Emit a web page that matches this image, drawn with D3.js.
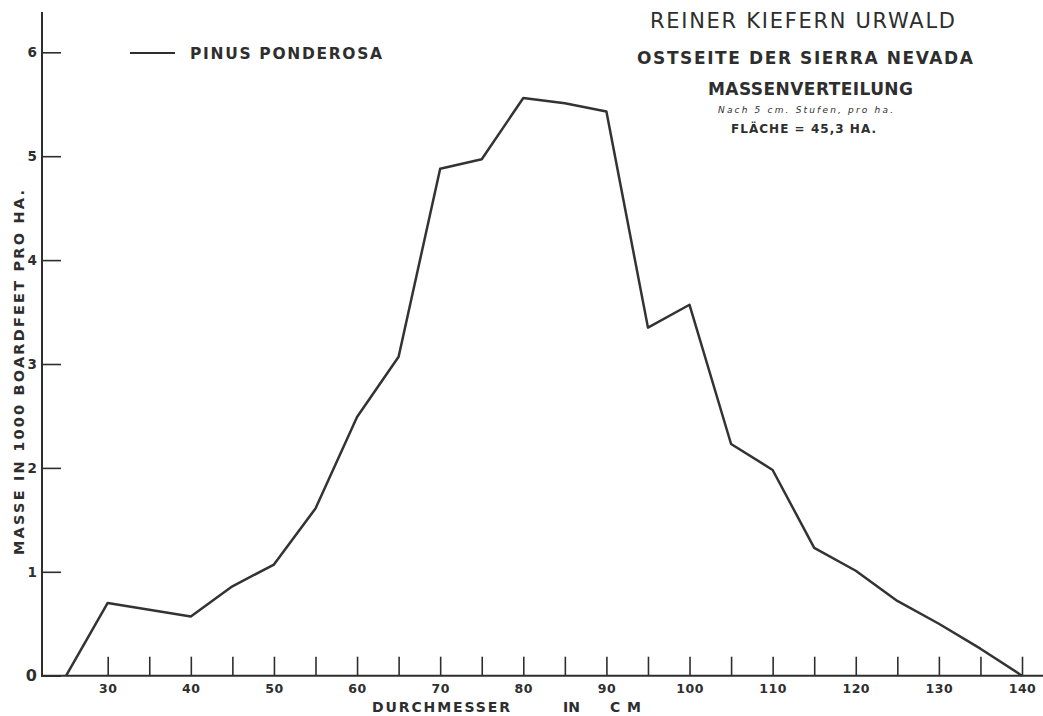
<!DOCTYPE html>
<html>
<head>
<meta charset="utf-8">
<script src="https://cdn.jsdelivr.net/npm/d3@7"></script>
<style>
  html, body { margin: 0; padding: 0; background: #fff; }
  svg { display: block; }
  text { font-family: "DejaVu Sans", sans-serif; fill: #2e2e2e; }
</style>
</head>
<body>
<svg id="chart" width="1043" height="716"></svg>
<script>
// Data (diameter class in cm, volume in 1000 boardfeet per ha)
const diameters = [25, 30, 40, 45, 50, 55, 60, 65, 70, 75, 80, 85, 90, 95, 100, 105, 110, 115, 120, 125, 130, 135, 140];
const volumes   = [0, 0.70, 0.57, 0.86, 1.07, 1.61, 2.49, 3.07, 4.88, 4.97, 5.56, 5.51, 5.43, 3.35, 3.57, 2.23, 1.98, 1.23, 1.01, 0.72, 0.50, 0.26, 0];
const xTickValues = [30, 35, 40, 45, 50, 55, 60, 65, 70, 75, 80, 85, 90, 95, 100, 105, 110, 115, 120, 125, 130, 135, 140];
const yTickValues = [0, 1, 2, 3, 4, 5, 6];
const seriesName = "PINUS PONDEROSA";
const titleLines = ["REINER KIEFERN URWALD", "OSTSEITE DER SIERRA NEVADA", "MASSENVERTEILUNG"];
const noteText = "Nach 5 cm. Stufen, pro ha.";
const areaText = "FLÄCHE = 45,3 HA.";
const xTitleParts = ["DURCHMESSER", "IN", "CM"];
const yTitle = "MASSE IN 1000 BOARDFEET PRO HA.";

const svg = d3.select("#chart");
const ink = "#2e2e2e";

const x = d3.scaleLinear().domain([30, 140]).range([107.7, 1022]);
const y = d3.scaleLinear().domain([0, 6]).range([675.7, 52.3]);

// X axis (ticks pointing upward, labels below)
const xAxis = d3.axisBottom(x)
  .tickValues(xTickValues)
  .tickSizeInner(-19).tickSizeOuter(0).tickPadding(8)
  .tickFormat(d => d % 10 === 0 ? d : "");
const gx = svg.append("g").attr("transform", `translate(0,${y(0)})`).call(xAxis);
gx.select(".domain").remove();
gx.selectAll(".tick line").attr("stroke", ink).attr("stroke-width", 1.6);
gx.selectAll(".tick text")
  .attr("font-family", "DejaVu Sans, sans-serif")
  .attr("font-size", 12.5).attr("font-weight", "bold")
  .attr("letter-spacing", 0.5)
  .attr("fill", ink);

// Y axis (ticks pointing right, labels left)
const yAxis = d3.axisLeft(y)
  .tickValues(yTickValues)
  .tickSizeInner(-19).tickSizeOuter(0).tickPadding(5)
  .tickFormat(d3.format("d"));
const gy = svg.append("g").attr("transform", `translate(42,0)`).call(yAxis);
gy.select(".domain").remove();
gy.selectAll(".tick line").attr("stroke", ink).attr("stroke-width", 1.6);
gy.selectAll(".tick text")
  .attr("font-family", "DejaVu Sans, sans-serif")
  .attr("font-size", d => d === 0 ? 16 : 13.5).attr("font-weight", "bold")
  .attr("fill", ink);

// Axis lines
svg.append("line").attr("x1", 42).attr("x2", 42).attr("y1", 12).attr("y2", y(0) + 1)
  .attr("stroke", ink).attr("stroke-width", 2);
svg.append("line").attr("x1", 41).attr("x2", 1043).attr("y1", y(0)).attr("y2", y(0))
  .attr("stroke", ink).attr("stroke-width", 2);

// Data line
const line = d3.line().x((d, i) => x(diameters[i])).y(d => y(d));
svg.append("path")
  .datum(volumes)
  .attr("d", line)
  .attr("fill", "none")
  .attr("stroke", "#333")
  .attr("stroke-width", 2.5)
  .attr("stroke-linejoin", "round");

// Legend
svg.append("line").attr("x1", 130).attr("x2", 175).attr("y1", 53).attr("y2", 53)
  .attr("stroke", ink).attr("stroke-width", 2);
svg.append("text").attr("x", 190).attr("y", 58.5)
  .attr("font-size", 15.5).attr("font-weight", "bold")
  .attr("textLength", 192).attr("lengthAdjust", "spacing")
  .text(seriesName);

// Titles
const tl = [
  {t: titleLines[0], x: 650, y: 27.5, size: 21, w: 305, bold: false},
  {t: titleLines[1], x: 637, y: 63.5, size: 17, w: 336, bold: true},
  {t: titleLines[2], x: 708, y: 94.5, size: 17, w: 205, bold: true},
  {t: areaText, x: 731, y: 132.5, size: 12, w: 145, bold: true}
];
tl.forEach(o => {
  svg.append("text").attr("x", o.x).attr("y", o.y)
    .attr("font-size", o.size).attr("font-weight", o.bold ? "bold" : "normal")
    .attr("textLength", o.w).attr("lengthAdjust", "spacing")
    .text(o.t);
});
svg.append("text").attr("x", 718).attr("y", 113)
  .attr("font-size", 9).attr("font-style", "italic")
  .attr("textLength", 175).attr("lengthAdjust", "spacing")
  .text(noteText);

// X axis title
const xt = [
  {t: xTitleParts[0], x: 372, w: 138},
  {t: xTitleParts[1], x: 563, w: 17},
  {t: xTitleParts[2], x: 610, w: 31}
];
xt.forEach(o => {
  svg.append("text").attr("x", o.x).attr("y", 712)
    .attr("font-size", 14).attr("font-weight", "bold")
    .attr("textLength", o.w).attr("lengthAdjust", "spacing")
    .text(o.t);
});

// Y axis title
svg.append("text")
  .attr("transform", "translate(24,555) rotate(-90)")
  .attr("font-size", 14.5).attr("font-weight", "bold")
  .attr("textLength", 365).attr("lengthAdjust", "spacing")
  .text(yTitle);
</script>
</body>
</html>
